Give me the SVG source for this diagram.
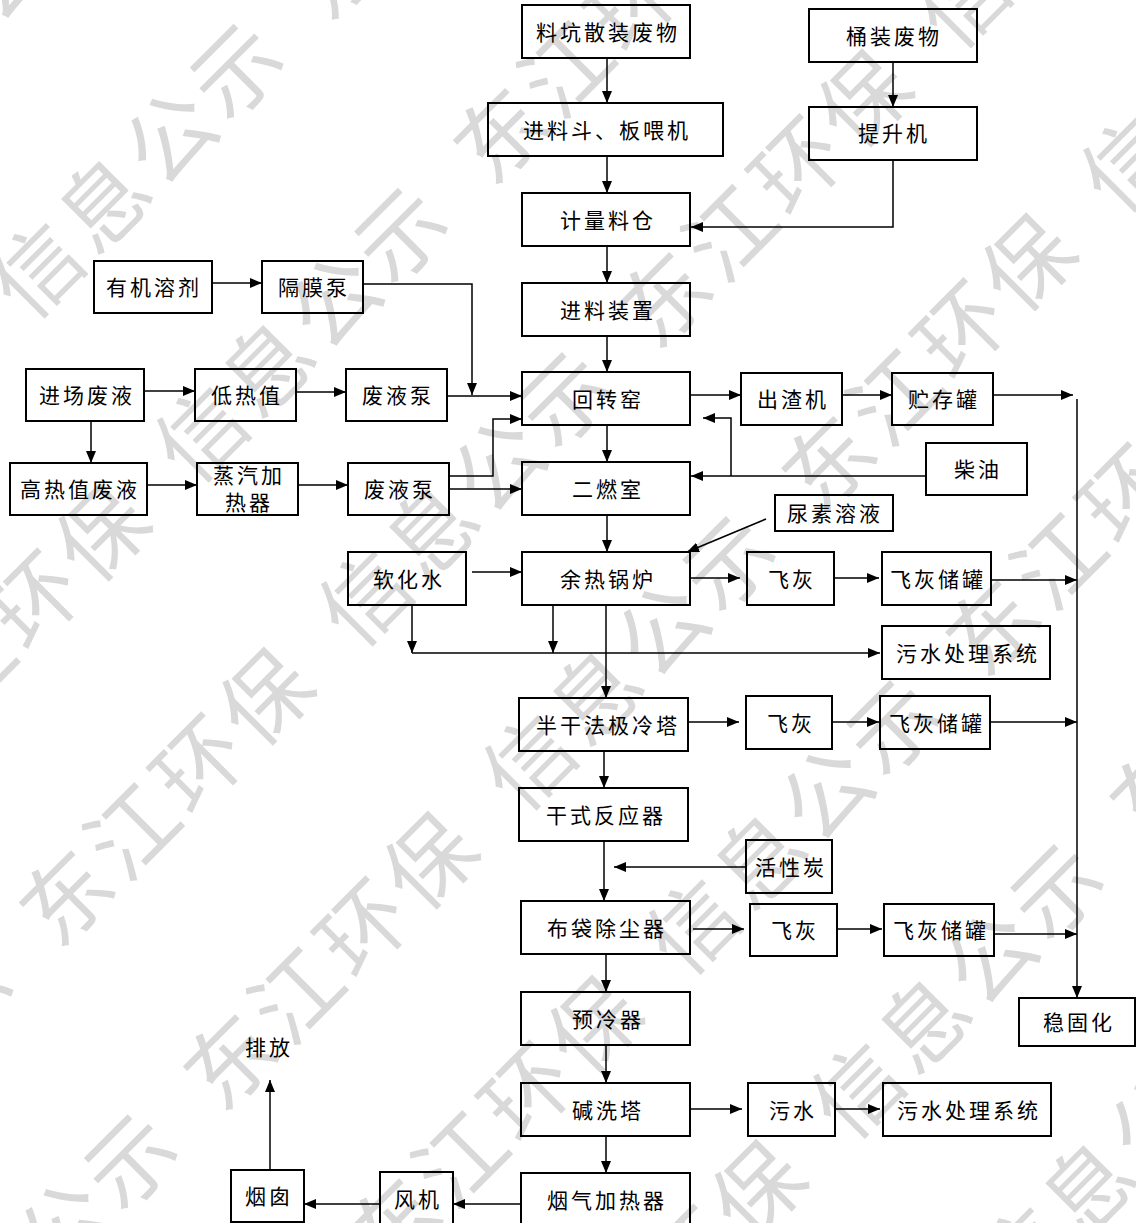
<svg xmlns="http://www.w3.org/2000/svg" width="1136" height="1223" viewBox="0 0 1136 1223">
<style>
.box{fill:none;stroke:#000;stroke-width:2}
.ln{fill:none;stroke:#000;stroke-width:1.5}
.t{font-family:"Liberation Serif","Noto Sans CJK SC",serif;font-size:21px;letter-spacing:3px;text-anchor:middle;fill:#000}
.wm{font-family:"Noto Sans CJK SC",sans-serif;font-size:88px;fill:#d9d9d9;text-anchor:middle}
</style>
<defs>
<marker id="ah" markerUnits="userSpaceOnUse" markerWidth="12" markerHeight="10" refX="12" refY="5" orient="auto">
<path d="M0,0 L12,5 L0,10 z" fill="#000"/>
</marker>
</defs>
<rect width="1136" height="1223" fill="#fff"/>
<g id="watermark" transform="translate(65,896) rotate(-45)">
<text class="wm" x="-423 -329 -235 -141 0 94 188 282 423 517 611 705 846 940 1034 1128 1269 1363 1457 1551" y="-662">信息公示东江环保信息公示东江环保信息公示</text>
<text class="wm" x="-423 -329 -235 -141 0 94 188 282 423 517 611 705 846 940 1034 1128 1269 1363 1457 1551" y="-430">信息公示东江环保信息公示东江环保信息公示</text>
<text class="wm" x="-423 -329 -235 -141 0 94 188 282 423 517 611 705 846 940 1034 1128 1269 1363 1457 1551" y="-198">信息公示东江环保信息公示东江环保信息公示</text>
<text class="wm" x="-423 -329 -235 -141 0 94 188 282 423 517 611 705 846 940 1034 1128 1269 1363 1457 1551" y="34">信息公示东江环保信息公示东江环保信息公示</text>
<text class="wm" x="-423 -329 -235 -141 0 94 188 282 423 517 611 705 846 940 1034 1128 1269 1363 1457 1551" y="266">信息公示东江环保信息公示东江环保信息公示</text>
<text class="wm" x="-423 -329 -235 -141 0 94 188 282 423 517 611 705 846 940 1034 1128 1269 1363 1457 1551" y="498">信息公示东江环保信息公示东江环保信息公示</text>
<text class="wm" x="-423 -329 -235 -141 0 94 188 282 423 517 611 705 846 940 1034 1128 1269 1363 1457 1551" y="730">信息公示东江环保信息公示东江环保信息公示</text>
<text class="wm" x="-423 -329 -235 -141 0 94 188 282 423 517 611 705 846 940 1034 1128 1269 1363 1457 1551" y="962">信息公示东江环保信息公示东江环保信息公示</text>
</g>
<g id="connectors">
<line class="ln" x1="607" y1="58" x2="607" y2="103" marker-end="url(#ah)"/>
<line class="ln" x1="607" y1="156" x2="607" y2="193" marker-end="url(#ah)"/>
<line class="ln" x1="607" y1="246" x2="607" y2="283" marker-end="url(#ah)"/>
<line class="ln" x1="607" y1="336" x2="607" y2="372" marker-end="url(#ah)"/>
<line class="ln" x1="607" y1="425" x2="607" y2="462" marker-end="url(#ah)"/>
<line class="ln" x1="607" y1="515" x2="607" y2="552" marker-end="url(#ah)"/>
<line class="ln" x1="606" y1="605" x2="606" y2="698" marker-end="url(#ah)"/>
<line class="ln" x1="604" y1="751" x2="604" y2="788" marker-end="url(#ah)"/>
<line class="ln" x1="604" y1="841" x2="604" y2="901" marker-end="url(#ah)"/>
<line class="ln" x1="746" y1="867" x2="614" y2="867" marker-end="url(#ah)"/>
<line class="ln" x1="606" y1="954" x2="606" y2="992" marker-end="url(#ah)"/>
<line class="ln" x1="606" y1="1045" x2="606" y2="1083" marker-end="url(#ah)"/>
<line class="ln" x1="606" y1="1136" x2="606" y2="1173" marker-end="url(#ah)"/>
<line class="ln" x1="521" y1="1204" x2="453" y2="1204" marker-end="url(#ah)"/>
<line class="ln" x1="380" y1="1204" x2="304" y2="1204" marker-end="url(#ah)"/>
<line class="ln" x1="270" y1="1170" x2="270" y2="1080" marker-end="url(#ah)"/>
<line class="ln" x1="893" y1="62" x2="893" y2="107" marker-end="url(#ah)"/>
<polyline class="ln" points="893,159 893,227 691,227" marker-end="url(#ah)"/>
<line class="ln" x1="211" y1="283" x2="262" y2="283" marker-end="url(#ah)"/>
<polyline class="ln" points="363,284 472,284 472,395" marker-end="url(#ah)"/>
<line class="ln" x1="144" y1="391" x2="195" y2="391" marker-end="url(#ah)"/>
<line class="ln" x1="296" y1="392" x2="346" y2="392" marker-end="url(#ah)"/>
<line class="ln" x1="447" y1="396" x2="522" y2="396" marker-end="url(#ah)"/>
<line class="ln" x1="91" y1="421" x2="91" y2="463" marker-end="url(#ah)"/>
<line class="ln" x1="147" y1="485" x2="197" y2="485" marker-end="url(#ah)"/>
<line class="ln" x1="298" y1="485" x2="348" y2="485" marker-end="url(#ah)"/>
<line class="ln" x1="449" y1="489" x2="522" y2="489" marker-end="url(#ah)"/>
<polyline class="ln" points="449,476 493,476 493,419 522,419" marker-end="url(#ah)"/>
<line class="ln" x1="691" y1="395" x2="741" y2="395" marker-end="url(#ah)"/>
<line class="ln" x1="842" y1="395" x2="892" y2="395" marker-end="url(#ah)"/>
<line class="ln" x1="993" y1="395" x2="1073" y2="395" marker-end="url(#ah)"/>
<line class="ln" x1="1077" y1="399" x2="1077" y2="998" marker-end="url(#ah)"/>
<line class="ln" x1="926" y1="476" x2="691" y2="476" marker-end="url(#ah)"/>
<polyline class="ln" points="731,476 731,418 703,418" marker-end="url(#ah)"/>
<line class="ln" x1="766" y1="519" x2="687" y2="552" marker-end="url(#ah)"/>
<line class="ln" x1="472" y1="572" x2="522" y2="572" marker-end="url(#ah)"/>
<line class="ln" x1="691" y1="578" x2="740" y2="578" marker-end="url(#ah)"/>
<line class="ln" x1="834" y1="578" x2="879" y2="578" marker-end="url(#ah)"/>
<line class="ln" x1="991" y1="580" x2="1077" y2="580" marker-end="url(#ah)"/>
<line class="ln" x1="412" y1="605" x2="412" y2="653" marker-end="url(#ah)"/>
<line class="ln" x1="553" y1="605" x2="553" y2="653" marker-end="url(#ah)"/>
<line class="ln" x1="412" y1="653" x2="880" y2="653" marker-end="url(#ah)"/>
<line class="ln" x1="688" y1="722" x2="739" y2="722" marker-end="url(#ah)"/>
<line class="ln" x1="832" y1="722" x2="879" y2="722" marker-end="url(#ah)"/>
<line class="ln" x1="990" y1="722" x2="1077" y2="722" marker-end="url(#ah)"/>
<line class="ln" x1="693" y1="929" x2="744" y2="929" marker-end="url(#ah)"/>
<line class="ln" x1="837" y1="929" x2="882" y2="929" marker-end="url(#ah)"/>
<line class="ln" x1="994" y1="934" x2="1077" y2="934" marker-end="url(#ah)"/>
<line class="ln" x1="691" y1="1109" x2="742" y2="1109" marker-end="url(#ah)"/>
<line class="ln" x1="835" y1="1109" x2="880" y2="1109" marker-end="url(#ah)"/>
</g>
<g id="n1"><rect class="box" x="522" y="5" width="168" height="53"/><text class="t" x="608" y="40">料坑散装废物</text></g>
<g id="n2"><rect class="box" x="488" y="103" width="235" height="53"/><text class="t" x="607" y="138">进料斗、板喂机</text></g>
<g id="n3"><rect class="box" x="522" y="193" width="168" height="53"/><text class="t" x="608" y="228">计量料仓</text></g>
<g id="n4"><rect class="box" x="522" y="283" width="168" height="53"/><text class="t" x="608" y="318">进料装置</text></g>
<g id="n5"><rect class="box" x="522" y="372" width="168" height="53"/><text class="t" x="608" y="407">回转窑</text></g>
<g id="n6"><rect class="box" x="522" y="462" width="168" height="53"/><text class="t" x="608" y="497">二燃室</text></g>
<g id="n7"><rect class="box" x="522" y="552" width="168" height="53"/><text class="t" x="608" y="587">余热锅炉</text></g>
<g id="n8"><rect class="box" x="519" y="698" width="169" height="53"/><text class="t" x="608" y="733">半干法极冷塔</text></g>
<g id="n9"><rect class="box" x="519" y="788" width="169" height="53"/><text class="t" x="606" y="823">干式反应器</text></g>
<g id="n10"><rect class="box" x="521" y="901" width="169" height="53"/><text class="t" x="607" y="936">布袋除尘器</text></g>
<g id="n11"><rect class="box" x="521" y="992" width="169" height="53"/><text class="t" x="608" y="1027">预冷器</text></g>
<g id="n12"><rect class="box" x="521" y="1083" width="169" height="53"/><text class="t" x="608" y="1118">碱洗塔</text></g>
<g id="n13"><rect class="box" x="521" y="1173" width="169" height="53"/><text class="t" x="607" y="1208">烟气加热器</text></g>
<g id="n14"><rect class="box" x="809" y="9" width="168" height="53"/><text class="t" x="894" y="44">桶装废物</text></g>
<g id="n15"><rect class="box" x="809" y="107" width="168" height="53"/><text class="t" x="894" y="141">提升机</text></g>
<g id="n16"><rect class="box" x="94" y="261" width="118" height="52"/><text class="t" x="154" y="295">有机溶剂</text></g>
<g id="n17"><rect class="box" x="262" y="261" width="101" height="52"/><text class="t" x="314" y="295">隔膜泵</text></g>
<g id="n18"><rect class="box" x="26" y="369" width="118" height="52"/><text class="t" x="87" y="403">进场废液</text></g>
<g id="n19"><rect class="box" x="195" y="369" width="101" height="52"/><text class="t" x="247" y="403">低热值</text></g>
<g id="n20"><rect class="box" x="346" y="369" width="101" height="52"/><text class="t" x="398" y="403">废液泵</text></g>
<g id="n21"><rect class="box" x="10" y="463" width="137" height="52"/><text class="t" x="80" y="497">高热值废液</text></g>
<g id="n22"><rect class="box" x="197" y="463" width="101" height="52"/><text class="t" x="249" y="483">蒸汽加</text><text class="t" x="249" y="510">热器</text></g>
<g id="n23"><rect class="box" x="348" y="463" width="101" height="52"/><text class="t" x="400" y="497">废液泵</text></g>
<g id="n24"><rect class="box" x="348" y="552" width="118" height="53"/><text class="t" x="409" y="587">软化水</text></g>
<g id="n25"><rect class="box" x="741" y="373" width="101" height="52"/><text class="t" x="793" y="407">出渣机</text></g>
<g id="n26"><rect class="box" x="892" y="373" width="101" height="52"/><text class="t" x="944" y="407">贮存罐</text></g>
<g id="n27"><rect class="box" x="926" y="443" width="101" height="52"/><text class="t" x="978" y="477">柴油</text></g>
<g id="n28"><rect class="box" x="775" y="495" width="118" height="36"/><text class="t" x="835" y="521">尿素溶液</text></g>
<g id="n29"><rect class="box" x="747" y="552" width="87" height="53"/><text class="t" x="792" y="587">飞灰</text></g>
<g id="n30"><rect class="box" x="882" y="552" width="109" height="53"/><text class="t" x="938" y="587">飞灰储罐</text></g>
<g id="n31"><rect class="box" x="882" y="626" width="168" height="53"/><text class="t" x="968" y="661">污水处理系统</text></g>
<g id="n32"><rect class="box" x="746" y="696" width="86" height="53"/><text class="t" x="791" y="731">飞灰</text></g>
<g id="n33"><rect class="box" x="880" y="696" width="110" height="53"/><text class="t" x="937" y="731">飞灰储罐</text></g>
<g id="n34"><rect class="box" x="746" y="840" width="86" height="53"/><text class="t" x="791" y="875">活性炭</text></g>
<g id="n35"><rect class="box" x="750" y="904" width="87" height="52"/><text class="t" x="795" y="938">飞灰</text></g>
<g id="n36"><rect class="box" x="884" y="904" width="110" height="52"/><text class="t" x="941" y="938">飞灰储罐</text></g>
<g id="n37"><rect class="box" x="1019" y="998" width="116" height="48"/><text class="t" x="1079" y="1030">稳固化</text></g>
<g id="n38"><rect class="box" x="748" y="1083" width="87" height="53"/><text class="t" x="793" y="1118">污水</text></g>
<g id="n39"><rect class="box" x="883" y="1083" width="168" height="53"/><text class="t" x="969" y="1118">污水处理系统</text></g>
<g id="n40"><rect class="box" x="231" y="1170" width="73" height="52"/><text class="t" x="269" y="1204">烟囱</text></g>
<g id="n41"><rect class="box" x="380" y="1172" width="73" height="53"/><text class="t" x="418" y="1207">风机</text></g>
<g id="n42"><text class="t" x="269" y="1055">排放</text></g>
</svg>
